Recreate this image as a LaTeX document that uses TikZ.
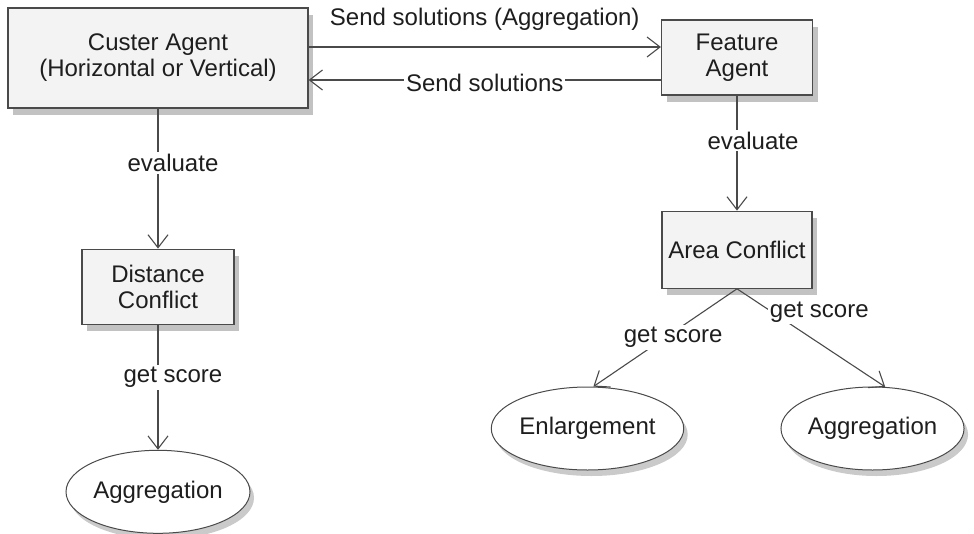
\documentclass[tikz,border=0pt]{standalone}
\usepackage{fontspec}
\setmainfont{Liberation Sans}
\usetikzlibrary{arrows.meta,positioning,shapes.geometric,shadows}
\definecolor{Edge}{HTML}{4A4A4A}
\definecolor{BoxFill}{HTML}{F3F3F3}
\definecolor{Ink}{HTML}{1E1E1E}

\begin{document}
\begin{tikzpicture}[
    x=1pt, y=-1pt,
    font=\fontsize{24}{26}\selectfont, text=Ink,
    agent/.style={draw=Edge, line width=1.2pt, fill=BoxFill, align=center, inner sep=0pt,
      drop shadow={shadow xshift=5pt, shadow yshift=-7pt, opacity=0.4, fill=black!60}},
    result/.style={ellipse, draw=Edge, line width=1pt, fill=white, inner sep=0pt,
      minimum width=184pt, minimum height=83pt,
      drop shadow={shadow xshift=4pt, shadow yshift=-6pt, opacity=0.35, fill=black!60}},
    arrow/.style={-{Straight Barb[length=13pt,width=20pt]}, line width=1.1pt, draw=Edge},
    lbl/.style={fill=white, inner sep=2pt}
  ]
    \useasboundingbox (0,0) rectangle (974,533);
    % agents
    \node[agent, minimum width=300pt, minimum height=100pt] (cluster) at (158,58)
      {Custer Agent\\(Horizontal or Vertical)};
    \node[agent, minimum width=151pt, minimum height=75pt] (feature) at (737,57.5)
      {Feature\\Agent};
    % conflicts
    \node[agent, minimum width=152pt, minimum height=75pt, below=140pt of cluster] (distance)
      {Distance\\Conflict};
    \node[agent, minimum width=150pt, minimum height=77pt, below=115pt of feature] (area)
      {Area Conflict};
    % operators
    \node[result, below=125pt of distance] (aggLeft) {Aggregation};
    \node[result] (enlarge) at (587.5,428.5) {Enlargement};
    \node[result, minimum width=179pt] (aggRight) at (872.5,428.5) {Aggregation};

    % messages between agents
    \coordinate (sendTop) at ([yshift=11pt]cluster.east);
    \coordinate (sendBack) at ([yshift=-22pt]cluster.east);
    \draw[arrow] (sendTop) -- node[lbl, yshift=28pt] (sendAgg) {Send solutions (Aggregation)}
      (sendTop -| feature.west);
    \draw[arrow] (sendBack -| feature.west) -- node[lbl, yshift=-3pt] (sendSol) {Send solutions}
      (sendBack);

    % evaluations
    \draw[arrow] (cluster) -- node[lbl, pos=0.39, xshift=15pt] (evalLeft) {evaluate} (distance);
    \draw[arrow] (feature) -- node[lbl, pos=0.39, xshift=16pt] (evalRight) {evaluate} (area);
    \draw[arrow] (distance) -- node[lbl, pos=0.42, xshift=15pt] (scoreLeft) {get score} (aggLeft);
    \draw[arrow] (area.south) -- node[lbl, pos=0.5, xshift=8pt] (scoreEnl) {get score} (enlarge.82);
    \draw[arrow] (area.south) -- node[lbl, pos=0.4, xshift=23pt, yshift=16pt] (scoreAgg) {get score}
      (aggRight.73);
\end{tikzpicture}
\end{document}
